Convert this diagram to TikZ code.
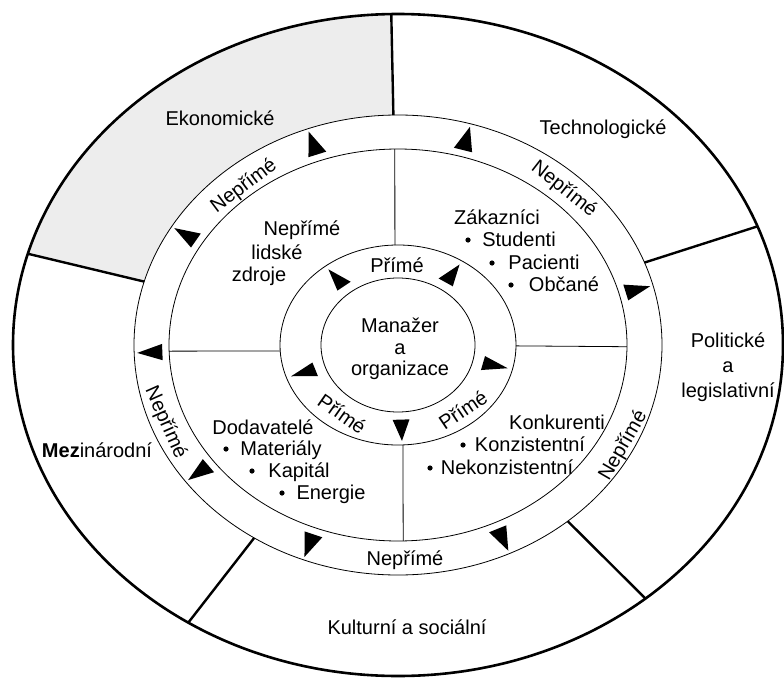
\documentclass[tikz,border=0pt]{standalone}
\usepackage{fontspec}
\setmainfont{Liberation Sans}
\usetikzlibrary{calc}
\begin{document}
\begin{tikzpicture}[x=1pt,y=-1pt,
  font=\fontsize{20}{23}\selectfont,
  lbl/.style={inner sep=0pt, text height=14pt, text depth=0pt},
  thickline/.style={line width=2.4pt},
  thinline/.style={line width=0.8pt},
  shade/.style={fill=black!7}]
\useasboundingbox (0,0) rectangle (784,677);
\coordinate (c) at (398,345);

% shaded sector (Ekonomicke)
\fill[shade] ($(c)+(91:385pt and 331pt)$) arc[start angle=91,end angle=164,x radius=385pt,y radius=331pt]
  -- ($(c)+(164:264pt and 230pt)$) arc[start angle=164,end angle=91,x radius=264pt,y radius=230pt] -- cycle;

% rings
\draw[line width=2.6pt] (c) ellipse[x radius=385pt, y radius=331pt];
\draw[thinline] (c) ellipse[x radius=264pt, y radius=230pt];
\draw[thinline] (c) ellipse[x radius=229pt, y radius=196pt];
\draw[thinline] (c) ellipse[x radius=118pt, y radius=100pt];
\draw[thinline] (c) ellipse[x radius=77pt, y radius=67pt];

% outer dividers
\foreach \a in {91,164,21,237,-50}{
  \draw[thickline] ($(c)+(\a:264pt and 230pt)$) -- ($(c)+(\a:385pt and 331pt)$);
}
% inner dividers
\draw[thinline] ($(c)+(91.5:118pt and 100pt)$) -- ($(c)+(90.8:229pt and 196pt)$);
\draw[thinline] ($(c)+(183.4:118pt and 100pt)$) -- ($(c)+(181.8:229pt and 196pt)$);
\draw[thinline] ($(c)+(-0.5:118pt and 100pt)$) -- ($(c)+(-0.5:229pt and 196pt)$);
\draw[thinline] ($(c)+(-87.6:118pt and 100pt)$) -- ($(c)+(-88.7:229pt and 196pt)$);

% arrow triangles in the outer band
\foreach \t in {110,74,149,15,182,216.5,249,-65}{
  \pgfmathsetmacro\tl{\t+2.3}
  \pgfmathsetmacro\tr{\t-2.3}
  \fill ($(c)+(\t:261pt and 227pt)$) -- ($(c)+(\tl:236pt and 203pt)$) -- ($(c)+(\tr:236pt and 203pt)$) -- cycle;
}
% arrow triangles in the inner ring
\foreach \t in {128,57,199,-14,-88}{
  \pgfmathsetmacro\tl{\t+5.5}
  \pgfmathsetmacro\tr{\t-5.5}
  \fill ($(c)+(\t:113pt and 96pt)$) -- ($(c)+(\tl:88pt and 75pt)$) -- ($(c)+(\tr:88pt and 75pt)$) -- cycle;
}

% outer sector labels
\node[lbl] (eko) at (220,118) {Ekonomické};
\node[lbl] (tech) at (603,127) {Technologické};
\node[lbl] (pol1) at (728,340) {Politické};
\node[lbl] (pol2) at (728,365) {a};
\node[lbl] (pol3) at (728,390) {legislativní};
\node[lbl] (mez) at (97,450) {\textbf{Mez}inárodní};
\node[lbl] (kult) at (407,627) {Kulturní a sociální};

% Neprime band labels
\node[lbl,rotate=37] (n1) at (243,185) {Nepřímé};
\node[lbl,rotate=-38] (n2) at (565,188) {Nepřímé};
\node[lbl,rotate=-66] (n3) at (167,422) {Nepřímé};
\node[lbl,rotate=60] (n4) at (622,445) {Nepřímé};
\node[lbl] (n5) at (405,558) {Nepřímé};

% Prime ring labels
\node[lbl] (p1) at (397,265) {Přímé};
\node[lbl,rotate=-35] (p2) at (342,414) {Přímé};
\node[lbl,rotate=34] (p3) at (463,410) {Přímé};

% centre
\node[lbl] (m1) at (400,325) {Manažer};
\node[lbl] (m2) at (400,347) {a};
\node[lbl] (m3) at (400,368) {organizace};

% quadrants
\node[lbl] (h1) at (302,228) {Nepřímé};
\node[lbl] (h2) at (277,252) {lidské};
\node[lbl] (h3) at (259,274) {zdroje};

\node[lbl] (z0) at (497,217) {Zákazníci};
\node[lbl] (z1) at (519,239) {Studenti};
\node[lbl] (z2) at (544,262) {Pacienti};
\node[lbl] (z3) at (564,284) {Občané};
\fill (468,240) circle[radius=2.6pt];
\fill (492,263) circle[radius=2.6pt];
\fill (511,285) circle[radius=2.6pt];

\node[lbl] (k0) at (557,422) {Konkurenti};
\node[lbl] (k1) at (530,444) {Konzistentní};
\node[lbl] (k2) at (507,467) {Nekonzistentní};
\fill (463,445) circle[radius=2.6pt];
\fill (430,468) circle[radius=2.6pt];

\node[lbl] (d0) at (263,427) {Dodavatelé};
\node[lbl] (d1) at (281,448) {Materiály};
\node[lbl] (d2) at (299,470) {Kapitál};
\node[lbl] (d3) at (331,492) {Energie};
\fill (226,449) circle[radius=2.6pt];
\fill (252,471) circle[radius=2.6pt];
\fill (282,493) circle[radius=2.6pt];
\end{tikzpicture}
\end{document}
